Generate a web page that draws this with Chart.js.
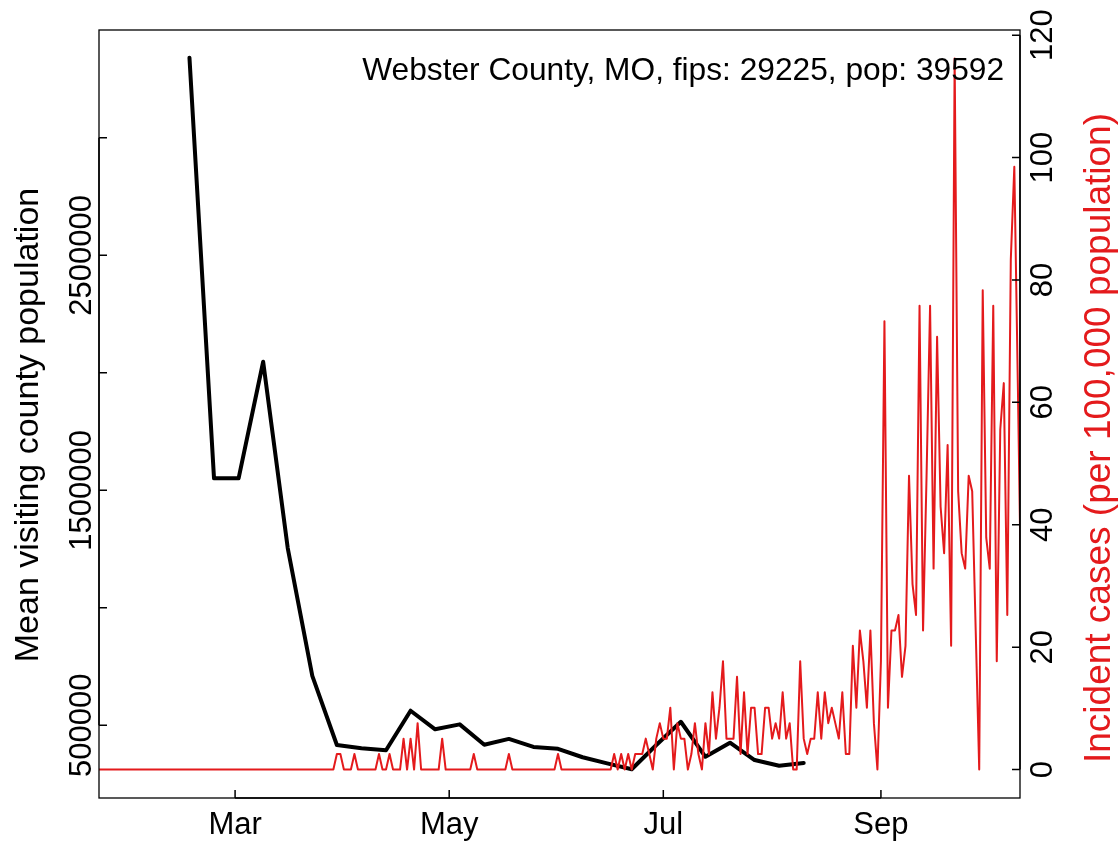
<!DOCTYPE html>
<html><head><meta charset="utf-8">
<script src="https://cdn.jsdelivr.net/npm/chart.js@4.4.1/dist/chart.umd.min.js"></script>
<style>html,body{margin:0;padding:0;background:#fff;overflow:hidden}canvas{display:block}</style>
</head><body>
<canvas id="c" width="1119" height="846"></canvas>
<script>
// ---------------- data ----------------
const chartTitle = "Webster County, MO, fips: 29225, pop: 39592";
const leftAxisTitle = "Mean visiting county population";
const rightAxisTitle = "Incident cases (per 100,000 population)";

const mobilityDates = ["2020-02-17","2020-02-24","2020-03-02","2020-03-09","2020-03-16","2020-03-23",
  "2020-03-30","2020-04-06","2020-04-13","2020-04-20","2020-04-27","2020-05-04","2020-05-11",
  "2020-05-18","2020-05-25","2020-06-01","2020-06-08","2020-06-15","2020-06-22","2020-06-29",
  "2020-07-06","2020-07-13","2020-07-20","2020-07-27","2020-08-03","2020-08-10"];
const mobilityValues = [3340800,1551000,1551000,2047000,1254000,710000,
  416000,402000,394000,562000,483000,504000,417000,
  442000,408000,400000,364000,338000,313000,416000,
  515000,366000,426000,352000,328000,340000];

const caseStartDate = "2020-01-22";
const caseValues = [
  0,0,0,0,0,0,0,0,0,0,
  0,0,0,0,0,0,0,0,0,0,
  0,0,0,0,0,0,0,0,0,0,
  0,0,0,0,0,0,0,0,0,0,
  0,0,0,0,0,0,0,0,0,0,
  0,0,0,0,0,0,0,0,0,0,
  0,0,0,0,0,0,0,0,2.53,2.53,
  0,0,0,2.53,0,0,0,0,0,0,
  2.53,0,0,2.53,0,0,0,5.05,0,5.05,
  0,7.58,0,0,0,0,0,0,5.05,0,
  0,0,0,0,0,0,0,2.53,0,0,
  0,0,0,0,0,0,0,2.53,0,0,
  0,0,0,0,0,0,0,0,0,0,
  0,2.53,0,0,0,0,0,0,0,0,
  0,0,0,0,0,0,0,2.53,0,2.53,
  0,2.53,0,2.53,2.53,2.53,5.05,2.53,0,5.05,
  7.58,5.05,5.05,10.1,0,7.58,5.05,5.05,0,2.53,
  7.58,2.53,0,7.58,2.53,12.63,5.05,10.1,17.68,5.05,
  5.05,5.05,15.15,2.53,12.63,2.53,10.1,10.1,2.53,2.53,
  10.1,10.1,5.05,7.58,5.05,12.63,5.05,7.58,0,0,
  17.68,5.05,2.53,5.05,5.05,12.63,5.05,12.63,7.58,10.1,
  7.58,5.05,12.63,2.53,2.53,20.21,10.1,22.73,17.68,10.1,
  22.73,7.58,0,17.68,73.25,10.1,22.73,22.73,25.26,15.15,
  20.21,47.99,30.31,25.26,75.77,22.73,47.99,75.77,32.83,70.72,
  42.94,35.36,53.04,20.21,116.19,45.46,35.36,32.83,47.99,45.46,
  22.73,0,78.3,37.89,32.83,75.77,17.68,55.57,63.14,25.26,
  83.35,98.5,63.14,25.26
];

const monthTickDates = ["2020-03-01","2020-05-01","2020-07-01","2020-09-01"];
const monthTickLabels = ["Mar","May","Jul","Sep"];
const leftTicks = [500000,1000000,1500000,2000000,2500000,3000000];
const leftTickLabels = ["500000","","1500000","","2500000",""];
const rightTicks = [0,20,40,60,80,100,120];
const rightTickLabels = ["0","20","40","60","80","100","120"];

// ---------------- helpers ----------------
const DAY0 = Date.UTC(2020,0,1);
function dayIndex(s){ const p = s.split('-').map(Number); return (Date.UTC(p[0],p[1]-1,p[2]) - DAY0)/86400000; }
const mobilityPoints = mobilityDates.map((d,i)=>({x: dayIndex(d), y: mobilityValues[i]}));
const caseStart = dayIndex(caseStartDate);
const casePoints = caseValues.map((v,i)=>({x: caseStart + i, y: v}));
const monthTickDays = monthTickDates.map(dayIndex);

const FONT = '"Liberation Sans", Arial, Helvetica, sans-serif';
const RED = '#E41A1C';

const rAxes = {
  id: 'rAxes',
  afterDraw(chart){
    const {ctx, chartArea: a, scales} = chart;
    const xs = scales.x, yl = scales.y, yr = scales.y2;
    ctx.save();
    ctx.strokeStyle = '#000';
    ctx.lineWidth = 1.3;
    ctx.strokeRect(a.left, a.top, a.right - a.left, a.bottom - a.top);
    ctx.lineWidth = 1.5;
    ctx.beginPath();
    const bx0 = xs.getPixelForValue(monthTickDays[0]), bx1 = xs.getPixelForValue(monthTickDays[monthTickDays.length-1]);
    ctx.moveTo(bx0, a.bottom); ctx.lineTo(bx1, a.bottom);
    monthTickDays.forEach(d=>{ const p = xs.getPixelForValue(d); ctx.moveTo(p, a.bottom); ctx.lineTo(p, a.bottom - 8); });
    ctx.moveTo(a.left, yl.getPixelForValue(leftTicks[0])); ctx.lineTo(a.left, yl.getPixelForValue(leftTicks[leftTicks.length-1]));
    leftTicks.forEach(v=>{ const p = yl.getPixelForValue(v); ctx.moveTo(a.left, p); ctx.lineTo(a.left + 8, p); });
    ctx.moveTo(a.right, yr.getPixelForValue(rightTicks[0])); ctx.lineTo(a.right, yr.getPixelForValue(rightTicks[rightTicks.length-1]));
    rightTicks.forEach(v=>{ const p = yr.getPixelForValue(v); ctx.moveTo(a.right, p); ctx.lineTo(a.right - 8, p); });
    ctx.stroke();

    ctx.fillStyle = '#000';
    ctx.font = '31px ' + FONT;
    ctx.textBaseline = 'alphabetic';
    ctx.textAlign = 'center';
    monthTickDays.forEach((d,i)=>{ ctx.fillText(monthTickLabels[i], xs.getPixelForValue(d), 834); });
    leftTicks.forEach((v,i)=>{
      if(!leftTickLabels[i]) return;
      ctx.save(); ctx.translate(91, yl.getPixelForValue(v)); ctx.rotate(-Math.PI/2);
      ctx.fillText(leftTickLabels[i], 0, 0); ctx.restore();
    });
    rightTicks.forEach((v,i)=>{
      ctx.save(); ctx.translate(1052, yr.getPixelForValue(v)); ctx.rotate(-Math.PI/2);
      ctx.fillText(rightTickLabels[i], 0, 0); ctx.restore();
    });
    ctx.font = '34px ' + FONT;
    ctx.save(); ctx.translate(38, 425); ctx.rotate(-Math.PI/2);
    ctx.fillText(leftAxisTitle, 0, 0); ctx.restore();
    ctx.font = '37px ' + FONT;
    ctx.save(); ctx.fillStyle = RED; ctx.translate(1110, 438); ctx.rotate(-Math.PI/2);
    ctx.fillText(rightAxisTitle, 0, 0); ctx.restore();
    ctx.font = '31.7px ' + FONT;
    ctx.textAlign = 'right';
    ctx.fillText(chartTitle, 1004, 80);
    ctx.restore();
  }
};

new Chart(document.getElementById('c'), {
  type: 'line',
  data: {
    datasets: [
      { label: 'cases', data: casePoints, yAxisID: 'y2', borderColor: RED, borderWidth: 2,
        pointRadius: 0, tension: 0, fill: false, clip: 0, borderJoinStyle: 'round' },
      { label: 'mobility', data: mobilityPoints, yAxisID: 'y', borderColor: '#000', borderWidth: 4,
        pointRadius: 0, tension: 0, fill: false, clip: 0, borderJoinStyle: 'round', borderCapStyle: 'round' }
    ]
  },
  options: {
    responsive: false, animation: false, devicePixelRatio: 1,
    layout: { padding: { top: 30, left: 0, right: 0, bottom: 0 } },
    plugins: { legend: { display: false }, tooltip: { enabled: false }, title: { display: false } },
    scales: {
      x: { type: 'linear', position: 'bottom', min: 21.23, max: 283.62,
        grid: { display: false }, border: { display: false }, ticks: { display: false },
        afterFit(s){ s.height = 48; } },
      y: { type: 'linear', position: 'left', min: 190600, max: 3458700,
        grid: { display: false }, border: { display: false }, ticks: { display: false },
        afterFit(s){ s.width = 99; } },
      y2: { type: 'linear', position: 'right', min: -4.65, max: 120.84,
        grid: { display: false }, border: { display: false }, ticks: { display: false },
        afterFit(s){ s.width = 99; } }
    }
  },
  plugins: [rAxes]
});
</script>
</body></html>
